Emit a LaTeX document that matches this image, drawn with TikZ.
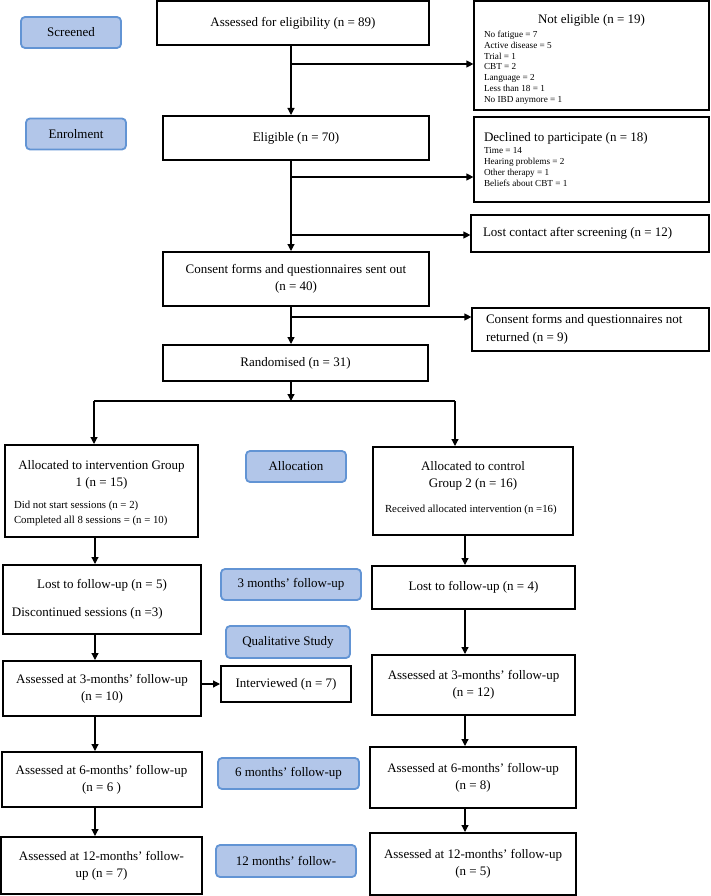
\documentclass[tikz,border=0pt]{standalone}
\usepackage{fontspec}
\setmainfont{Liberation Serif}
\usetikzlibrary{arrows.meta}

\definecolor{phasefill}{RGB}{178,198,233}
\definecolor{phaseline}{RGB}{98,148,212}
\newcommand{\listsize}{\fontsize{9.2}{10.9}\selectfont}
\newcommand{\subsize}{\fontsize{10.8}{15}\selectfont}

\begin{document}
\begin{tikzpicture}[x=1pt,y=-1pt,->,>={Triangle[length=7pt,width=7pt]},line width=1.2pt,
    font=\fontsize{13}{17}\selectfont,
    box/.style={draw,line width=2pt,align=center},
    sidebox/.style={draw,line width=1.2pt,inner xsep=10pt},
    phase/.style={draw=phaseline,fill=phasefill,line width=1.8pt,rounded corners=4pt,
        minimum width=100pt,minimum height=31pt}]

    \useasboundingbox (0,0) rectangle (710,896);

    % stage labels
    \node[phase] (screen) at (71,32.5) {Screened};
    \node[phase] (enrol) at (76,134) {Enrolment};
    \node[phase] (alloc) at (296,466.5) {Allocation};
    \node[phase,minimum width=140pt] (fu3) at (291,584.5) {3 months' follow-up};
    \node[phase,minimum width=124pt,minimum height=32pt] (qual) at (288,642) {Qualitative Study};
    \node[phase,minimum width=141pt] (fu6) at (288.5,773.5) {6 months' follow-up};
    \node[phase,minimum width=140pt,minimum height=32pt] (fu12) at (286,861) {12 months' follow-};

    % enrolment column
    \node[box,minimum width=272pt,minimum height=44pt] (assess) at (293,23) {Assessed for eligibility (n = 89)};
    \node[box,minimum width=266pt,minimum height=44pt] (elig) at (296,138) {Eligible (n = 70)};
    \node[box,minimum width=266pt,minimum height=54pt] (consent) at (296,279) {Consent forms and questionnaires sent out\\(n = 40)};
    \node[box,minimum width=265pt,minimum height=36pt] (rand) at (295.5,363) {Randomised (n = 31)};

    % exclusions
    \node[sidebox,minimum height=109pt] (noteli) at (591.5,55.5)
        {\begin{minipage}{215pt}\vspace{8pt}\centering Not eligible (n = 19)\par\vspace{3pt}\raggedright\listsize
         No fatigue = 7\\Active disease = 5\\Trial = 1\\CBT = 2\\Language = 2\\Less than 18 = 1\\No IBD anymore = 1\end{minipage}};
    \node[sidebox,minimum height=85pt] (decl) at (591.5,159.5)
        {\begin{minipage}{215pt}\raggedright Declined to participate (n = 18)\par\vspace{1pt}\listsize
         Time = 14\\Hearing problems = 2\\Other therapy = 1\\Beliefs about CBT = 1\end{minipage}};
    \node[sidebox,inner xsep=12pt,minimum height=37pt] (lostc) at (590,233.5)
        {\begin{minipage}{214pt}\raggedright Lost contact after screening (n = 12)\end{minipage}};
    \node[sidebox,inner xsep=14pt,minimum height=43pt] (notret) at (590.5,329.5)
        {\begin{minipage}{209pt}\raggedright\baselineskip=18pt Consent forms and questionnaires not\\returned (n = 9)\end{minipage}};

    % groups
    \node[box,inner xsep=9pt,minimum height=92pt] (grp1) at (101.5,491)
        {\begin{minipage}{175pt}\vspace{5pt}\centering Allocated to intervention Group\\1 (n = 15)\par\vspace{7pt}\raggedright\subsize
         Did not start sessions (n = 2)\\Completed all 8 sessions = (n = 10)\end{minipage}};
    \node[box,inner xsep=12pt,minimum height=88pt] (grp2) at (473,491)
        {\begin{minipage}{176pt}\vspace{2pt}\centering Allocated to control\\Group 2 (n = 16)\par\vspace{10pt}\raggedright\subsize
         Received allocated intervention (n =16)\par\vspace{8pt}\end{minipage}};

    % follow-up
    \node[box,inner xsep=9pt,minimum height=69pt] (lost1) at (102,599.5)
        {\begin{minipage}{180pt}\centering Lost to follow-up (n = 5)\par\vspace{11pt}\raggedright Discontinued sessions (n =3)\end{minipage}};
    \node[box,minimum width=203pt,minimum height=43pt] (lost2) at (473.5,587.5) {Lost to follow-up (n = 4)};
    \node[box,minimum width=198pt,minimum height=55pt] (ass3a) at (102,688.5) {Assessed at 3-months' follow-up\\(n = 10)};
    \node[box,minimum width=130pt,minimum height=36pt] (interv) at (286,684) {Interviewed (n = 7)};
    \node[box,minimum width=203pt,minimum height=60pt] (ass3b) at (473.5,685) {Assessed at 3-months' follow-up\\(n = 12)};
    \node[box,minimum width=200pt,minimum height=55pt] (ass6a) at (101.5,779.5) {Assessed at 6-months' follow-up\\(n = 6 )};
    \node[box,minimum width=206pt,minimum height=61pt] (ass6b) at (473,777.5) {Assessed at 6-months' follow-up\\(n = 8)};
    \node[box,minimum width=201pt,minimum height=57pt] (ass12a) at (101.5,865.5) {Assessed at 12-months' follow-\\up (n = 7)};
    \node[box,minimum width=206pt,minimum height=62pt] (ass12b) at (473,864) {Assessed at 12-months' follow-up\\(n = 5)};

    % branch points
    \coordinate (b1) at (291,64);
    \coordinate (b2) at (291,177);
    \coordinate (b3) at (291,235);
    \coordinate (b4) at (291,317);
    \coordinate (split) at (291,401);
    \coordinate (splitL) at (94,401);
    \coordinate (splitR) at (455,401);
    \coordinate (colL) at (95,0);
    \coordinate (colR) at (465,0);

    \draw (assess.south -| b1) -- (elig.north -| b1);
    \draw (elig.south -| b1) -- (consent.north -| b1);
    \draw (consent.south -| b1) -- (rand.north -| b1);
    \draw (b1) -- (noteli.west |- b1);
    \draw (b2) -- (decl.west |- b2);
    \draw (b3) -- (lostc.west |- b3);
    \draw (b4) -- (notret.west |- b4);

    \draw (rand.south -| split) -- (split);
    \draw[-] (splitL) -- (splitR);
    \draw (splitL) -- (grp1.north -| splitL);
    \draw (splitR) -- (grp2.north -| splitR);

    \draw (grp1.south -| colL) -- (lost1.north -| colL);
    \draw (lost1.south -| colL) -- (ass3a.north -| colL);
    \draw (ass3a.south -| colL) -- (ass6a.north -| colL);
    \draw (ass6a.south -| colL) -- (ass12a.north -| colL);
    \draw (ass3a.east |- interv.west) -- (interv.west);

    \draw (grp2.south -| colR) -- (lost2.north -| colR);
    \draw (lost2.south -| colR) -- (ass3b.north -| colR);
    \draw (ass3b.south -| colR) -- (ass6b.north -| colR);
    \draw (ass6b.south -| colR) -- (ass12b.north -| colR);
\end{tikzpicture}
\end{document}
